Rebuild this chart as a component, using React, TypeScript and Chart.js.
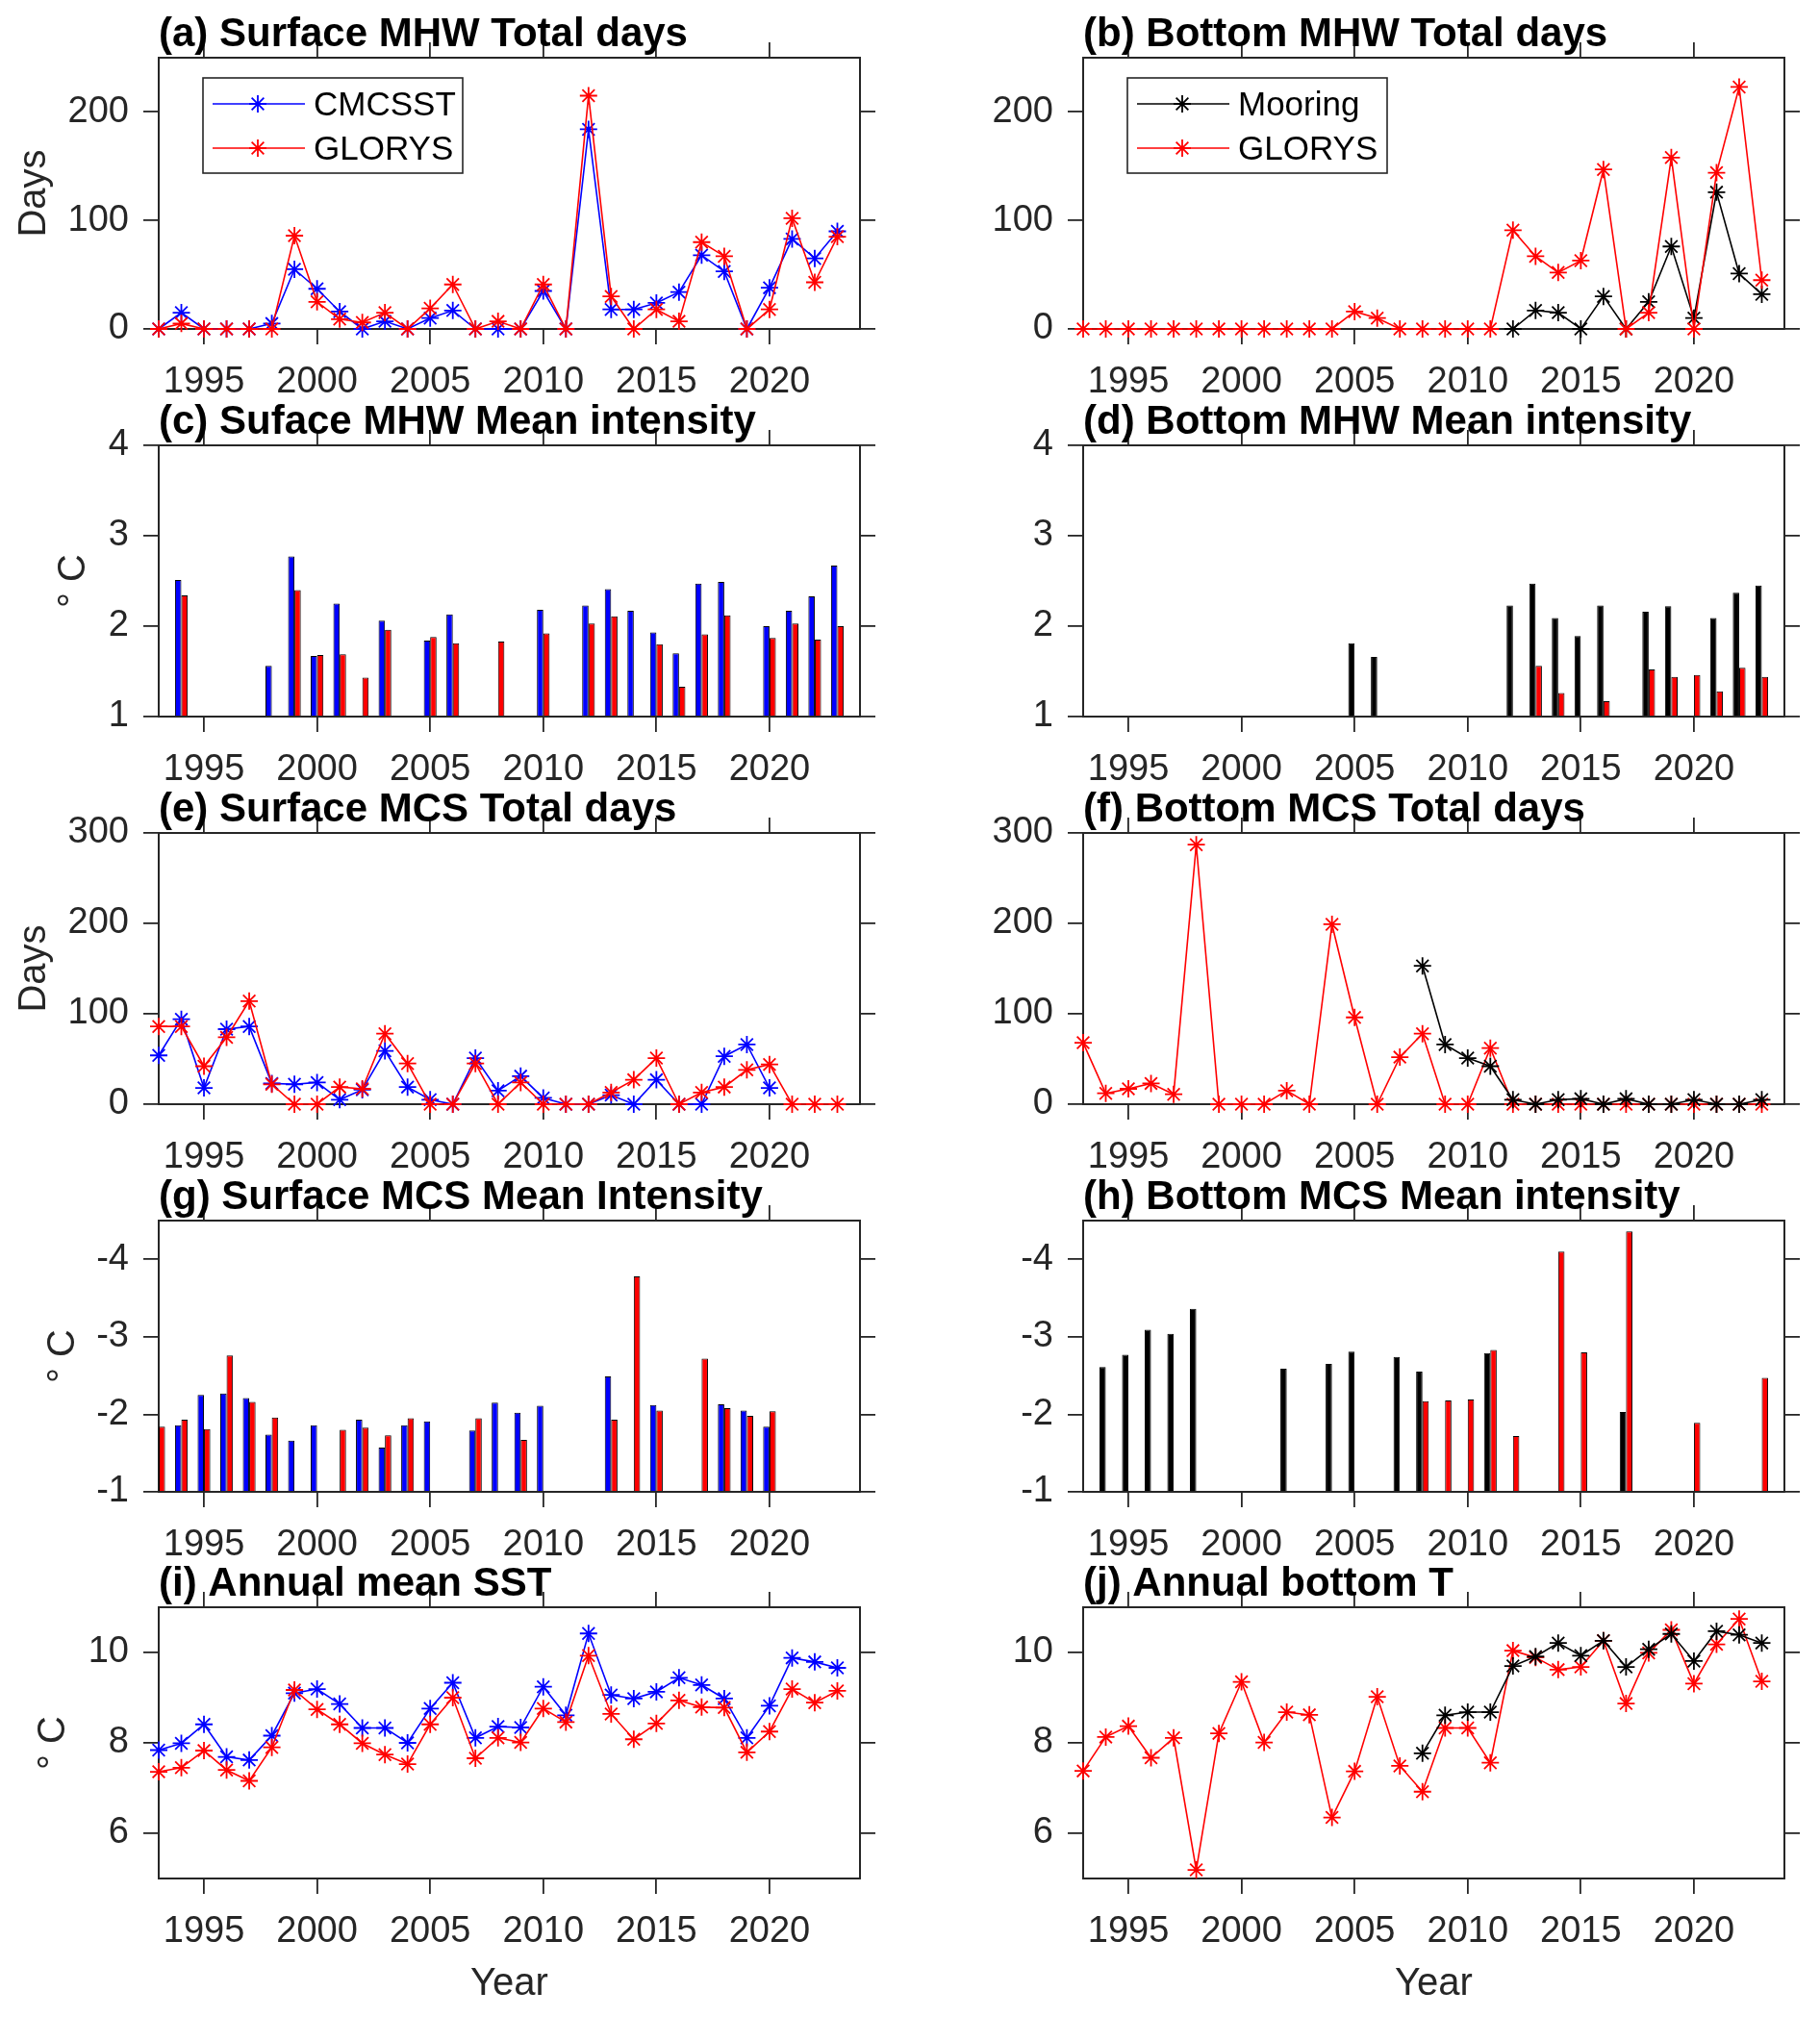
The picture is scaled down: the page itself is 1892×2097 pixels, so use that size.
import React, { useEffect, useRef } from 'react';
import { Chart, registerables } from 'chart.js';

Chart.register(...registerables);

const N = null;

// ---------- data ----------
const years = [1993, 1994, 1995, 1996, 1997, 1998, 1999, 2000, 2001, 2002, 2003, 2004, 2005, 2006, 2007, 2008,
  2009, 2010, 2011, 2012, 2013, 2014, 2015, 2016, 2017, 2018, 2019, 2020, 2021, 2022, 2023];
const yearTicks = [1995, 2000, 2005, 2010, 2015, 2020];

// (a) Surface MHW total days
const aCMCSST = [0, 15, 0, 0, 0, 5, 55, 37, 16, 0, 7, 0, 10, 17, 0, 0, 0, 35, 0, 184, 18, 18, 24, 34, 68, 53, 0, 38, 83, 65, 90];
const aGLORYS = [0, 5, 0, 0, 0, 0, 86, 25, 9, 6, 15, 0, 19, 41, 0, 7, 0, 41, 0, 215, 30, 0, 18, 7, 80, 67, 0, 18, 102, 43, 85];
// (b) Bottom MHW total days
const bMooring = [N, N, N, N, N, N, N, N, N, N, N, N, N, N, N, N, N, N, N, 0, 17, 15, 0, 30, 0, 25, 76, 10, 126, 51, 32];
const bGLORYS = [0, 0, 0, 0, 0, 0, 0, 0, 0, 0, 0, 0, 16, 10, 0, 0, 0, 0, 0, 91, 67, 52, 63, 147, 0, 15, 158, 0, 144, 223, 45];
// (c) Surface MHW mean intensity
const cCMCSST = [N, 2.51, N, N, N, 1.56, 2.77, 1.67, 2.25, N, 2.06, N, 1.84, 2.13, N, N, N, 2.18, N, 2.23, 2.41, 2.17, 1.93, 1.70, 2.47, 2.49, N, 2.00, 2.17, 2.33, 2.67];
const cGLORYS = [N, 2.34, N, N, N, N, 2.40, 1.68, 1.69, 1.43, 1.96, N, 1.88, 1.81, N, 1.83, N, 1.92, N, 2.03, 2.11, N, 1.80, 1.33, 1.91, 2.12, N, 1.87, 2.03, 1.85, 2.00];
// (d) Bottom MHW mean intensity
const dMooring = [N, N, N, N, N, N, N, N, N, N, N, N, 1.81, 1.66, N, N, N, N, N, 2.23, 2.47, 2.09, 1.89, 2.23, N, 2.16, 2.22, N, 2.09, 2.37, 2.45];
const dGLORYS = [N, N, N, N, N, N, N, N, N, N, N, N, N, N, N, N, N, N, N, N, 1.56, 1.26, N, 1.17, N, 1.52, 1.44, 1.46, 1.28, 1.54, 1.44];
// (e) Surface MCS total days
const eCMCSST = [54, 94, 18, 83, 86, 23, 22, 24, 5, 16, 59, 19, 5, 0, 51, 15, 31, 7, 0, 0, 10, 0, 27, 0, 0, 53, 66, 18, N, N, N];
const eGLORYS = [86, 86, 42, 74, 114, 22, 0, 0, 19, 17, 78, 45, 0, 0, 45, 0, 24, 0, 0, 0, 13, 27, 51, 0, 13, 19, 38, 44, 0, 0, 0];
// (f) Bottom MCS total days
const fMooring = [N, N, N, N, N, N, N, N, N, N, N, N, N, N, N, 153, 66, 51, 42, 5, 0, 5, 6, 0, 6, 0, 0, 5, 0, 0, 5];
const fGLORYS = [68, 12, 17, 23, 11, 287, 0, 0, 0, 15, 0, 199, 96, 0, 52, 78, 0, 0, 62, 0, 0, 0, 0, 0, 0, 0, 0, 0, 0, 0, 0];
// (g) Surface MCS mean intensity
const gCMCSST = [N, -1.86, -2.25, -2.27, -2.21, -1.74, -1.66, -1.86, N, -1.93, -1.57, -1.86, -1.91, N, -1.79, -2.15, -2.02, -2.11, N, N, -2.49, N, -2.12, N, N, -2.13, -2.05, -1.84, N, N, N];
const gGLORYS = [-1.84, -1.93, -1.81, -2.76, -2.16, -1.96, N, N, -1.80, -1.83, -1.73, -1.95, N, N, -1.95, N, -1.67, N, N, N, -1.93, -3.78, -2.05, N, -2.72, -2.08, -1.98, -2.04, N, N, N];
// (h) Bottom MCS mean intensity
const hMooring = [N, -2.61, -2.77, -3.09, -3.04, -3.36, N, N, N, -2.59, N, -2.65, -2.81, N, -2.74, -2.55, N, N, -2.79, N, N, N, N, N, -2.03, N, N, N, N, N, N];
const hGLORYS = [N, N, N, N, N, N, N, N, N, N, N, N, N, N, N, -2.17, -2.18, -2.19, -2.83, -1.72, N, -4.10, -2.80, N, -4.36, N, N, -1.89, N, N, -2.47];
// (i) Annual mean SST
const iCMCSST = [7.84, 7.99, 8.41, 7.69, 7.62, 8.16, 9.10, 9.19, 8.86, 8.33, 8.33, 8.00, 8.76, 9.33, 8.11, 8.36, 8.34, 9.24, 8.61, 10.42, 9.06, 8.98, 9.13, 9.44, 9.28, 8.98, 8.11, 8.82, 9.88, 9.79, 9.66];
const iGLORYS = [7.36, 7.45, 7.83, 7.40, 7.16, 7.90, 9.17, 8.74, 8.41, 7.99, 7.74, 7.53, 8.41, 9.00, 7.66, 8.11, 8.01, 8.76, 8.46, 9.93, 8.64, 8.08, 8.43, 8.94, 8.79, 8.78, 7.79, 8.25, 9.19, 8.89, 9.15];
// (j) Annual bottom T
const jMooring = [N, N, N, N, N, N, N, N, N, N, N, N, N, N, N, 7.77, 8.61, 8.68, 8.68, 9.70, 9.91, 10.21, 9.93, 10.26, 9.68, 10.07, 10.41, 9.81, 10.47, 10.39, 10.21];
const jGLORYS = [7.38, 8.13, 8.37, 7.67, 8.11, 5.19, 8.21, 9.35, 8.01, 8.68, 8.62, 6.35, 7.37, 9.02, 7.49, 6.92, 8.33, 8.33, 7.56, 10.04, 9.89, 9.62, 9.68, 10.26, 8.87, 9.99, 10.50, 9.31, 10.18, 10.74, 9.36];

const ticksDays250 = [0, 100, 200];
const ticksDays300 = [0, 100, 200, 300];
const ticksMHWInt = [1, 2, 3, 4];
const ticksMCSInt = [-4, -3, -2, -1];
const ticksTemp = [6, 8, 10];

// ---------- styling / layout ----------
const FONT = "'Liberation Sans', Arial, Helvetica, sans-serif";
const AXIS = '#262626';
const BLUE = '#0000ff';
const RED = '#ff0000';
const BLACK = '#000000';
const MARKER_R = 9;

const GEOM = {
  colX: [0, 946],
  colW: 946,
  plotL: [165, 1126],
  plotR: [894, 1855],
  rowTop: [60, 463, 866, 1269, 1671],
  plotH: 282,
  topSpace: 60,
  bottomSpace: [78, 78, 78, 78, 144],
};

type Series = { label: string; values: (number | null)[]; color: string; order: number };
type PanelSpec = {
  title: string;
  kind: 'line' | 'bar';
  col: number;
  row: number;
  yMin: number;
  yMax: number;
  yTicks: number[];
  reverse?: boolean;
  base?: number;
  yTitle?: string;
  yTitlePad?: number;
  xTitle?: string;
  legend?: boolean;
  series: Series[];
};

const panels: PanelSpec[] = [
  { title: '(a) Surface MHW Total days', kind: 'line', col: 0, row: 0, yMin: 0, yMax: 250, yTicks: ticksDays250, yTitle: 'Days', yTitlePad: 12, legend: true,
    series: [{ label: 'CMCSST', values: aCMCSST, color: BLUE, order: 1 }, { label: 'GLORYS', values: aGLORYS, color: RED, order: 0 }] },
  { title: '(b) Bottom MHW Total days', kind: 'line', col: 1, row: 0, yMin: 0, yMax: 250, yTicks: ticksDays250, legend: true,
    series: [{ label: 'Mooring', values: bMooring, color: BLACK, order: 1 }, { label: 'GLORYS', values: bGLORYS, color: RED, order: 0 }] },
  { title: '(c) Suface MHW Mean intensity', kind: 'bar', col: 0, row: 1, yMin: 1, yMax: 4, yTicks: ticksMHWInt, base: 1, yTitle: '° C', yTitlePad: 53,
    series: [{ label: 'CMCSST', values: cCMCSST, color: BLUE, order: 0 }, { label: 'GLORYS', values: cGLORYS, color: RED, order: 0 }] },
  { title: '(d) Bottom MHW Mean intensity', kind: 'bar', col: 1, row: 1, yMin: 1, yMax: 4, yTicks: ticksMHWInt, base: 1,
    series: [{ label: 'Mooring', values: dMooring, color: BLACK, order: 0 }, { label: 'GLORYS', values: dGLORYS, color: RED, order: 0 }] },
  { title: '(e) Surface MCS Total days', kind: 'line', col: 0, row: 2, yMin: 0, yMax: 300, yTicks: ticksDays300, yTitle: 'Days', yTitlePad: 12,
    series: [{ label: 'CMCSST', values: eCMCSST, color: BLUE, order: 1 }, { label: 'GLORYS', values: eGLORYS, color: RED, order: 0 }] },
  { title: '(f) Bottom MCS Total days', kind: 'line', col: 1, row: 2, yMin: 0, yMax: 300, yTicks: ticksDays300,
    series: [{ label: 'Mooring', values: fMooring, color: BLACK, order: 0 }, { label: 'GLORYS', values: fGLORYS, color: RED, order: 1 }] },
  { title: '(g) Surface MCS Mean Intensity', kind: 'bar', col: 0, row: 3, yMin: -4.5, yMax: -1, yTicks: ticksMCSInt, reverse: true, base: -1, yTitle: '° C', yTitlePad: 42,
    series: [{ label: 'CMCSST', values: gCMCSST, color: BLUE, order: 0 }, { label: 'GLORYS', values: gGLORYS, color: RED, order: 0 }] },
  { title: '(h) Bottom MCS Mean intensity', kind: 'bar', col: 1, row: 3, yMin: -4.5, yMax: -1, yTicks: ticksMCSInt, reverse: true, base: -1,
    series: [{ label: 'Mooring', values: hMooring, color: BLACK, order: 0 }, { label: 'GLORYS', values: hGLORYS, color: RED, order: 0 }] },
  { title: '(i) Annual mean SST', kind: 'line', col: 0, row: 4, yMin: 5, yMax: 11, yTicks: ticksTemp, yTitle: '° C', yTitlePad: 32, xTitle: 'Year',
    series: [{ label: 'CMCSST', values: iCMCSST, color: BLUE, order: 1 }, { label: 'GLORYS', values: iGLORYS, color: RED, order: 0 }] },
  { title: '(j) Annual bottom T', kind: 'line', col: 1, row: 4, yMin: 5, yMax: 11, yTicks: ticksTemp, xTitle: 'Year',
    series: [{ label: 'Mooring', values: jMooring, color: BLACK, order: 0 }, { label: 'GLORYS', values: jGLORYS, color: RED, order: 1 }] },
];

function drawStar(ctx: CanvasRenderingContext2D, x: number, y: number, r: number) {
  const d = r * Math.SQRT1_2;
  ctx.beginPath();
  ctx.moveTo(x - r, y); ctx.lineTo(x + r, y);
  ctx.moveTo(x, y - r); ctx.lineTo(x, y + r);
  ctx.moveTo(x - d, y - d); ctx.lineTo(x + d, y + d);
  ctx.moveTo(x - d, y + d); ctx.lineTo(x + d, y - d);
  ctx.stroke();
}

const boxLegend = {
  id: 'boxLegend',
  afterDatasetsDraw(chart: any, _args: any, opts: any) {
    if (!opts || !opts.display) return;
    const { ctx, chartArea } = chart;
    const x0 = chartArea.left + 46;
    const y0 = chartArea.top + 21;
    const w = 270;
    const h = 99;
    ctx.save();
    ctx.fillStyle = '#ffffff';
    ctx.fillRect(x0, y0, w, h);
    ctx.strokeStyle = AXIS;
    ctx.lineWidth = 1.6;
    ctx.strokeRect(x0, y0, w, h);
    const rows = [27, 73];
    chart.data.datasets.forEach((ds: any, i: number) => {
      const cy = y0 + rows[i];
      ctx.strokeStyle = ds.borderColor;
      ctx.lineWidth = 1.6;
      ctx.beginPath();
      ctx.moveTo(x0 + 10, cy);
      ctx.lineTo(x0 + 106, cy);
      ctx.stroke();
      ctx.lineWidth = 1.8;
      drawStar(ctx, x0 + 57, cy, MARKER_R);
      ctx.fillStyle = '#000000';
      ctx.font = `35px ${FONT}`;
      ctx.textAlign = 'left';
      ctx.textBaseline = 'middle';
      ctx.fillText(ds.label, x0 + 115, cy + 2);
    });
    ctx.restore();
  },
};

function buildConfig(spec: PanelSpec): any {
  const leftW = GEOM.plotL[spec.col] - GEOM.colX[spec.col];
  const rightW = GEOM.colX[spec.col] + GEOM.colW - GEOM.plotR[spec.col];
  const bottomH = GEOM.bottomSpace[spec.row];
  const tickGrid = { drawOnChartArea: false, drawTicks: true, tickLength: 16, color: AXIS, lineWidth: 1.8, offset: false };
  const border = { display: true, color: AXIS, width: 2 };
  const tickFont = { family: FONT, size: 38 };

  const datasets = spec.series.map((s) => {
    const data = years.map((yr, i) => ({ x: yr, y: s.values[i] }));
    if (spec.kind === 'bar') {
      return {
        type: 'bar',
        label: s.label,
        data,
        backgroundColor: s.color,
        borderColor: '#000000',
        borderWidth: 1,
        base: spec.base,
        categoryPercentage: 0.56,
        barPercentage: 1,
        order: s.order,
      };
    }
    return {
      type: 'line',
      label: s.label,
      data,
      borderColor: s.color,
      backgroundColor: s.color,
      borderWidth: 1.6,
      pointStyle: 'star',
      pointRadius: MARKER_R,
      pointHoverRadius: MARKER_R,
      pointBorderWidth: 1.8,
      pointBorderColor: s.color,
      pointBackgroundColor: s.color,
      tension: 0,
      spanGaps: false,
      clip: false,
      order: s.order,
    };
  });

  const setXTicks = (scale: any) => { scale.ticks = yearTicks.map((v) => ({ value: v })); };
  const setYTicks = (scale: any) => { scale.ticks = spec.yTicks.map((v) => ({ value: v })); };

  return {
    type: spec.kind,
    data: { datasets },
    plugins: [boxLegend],
    options: {
      responsive: false,
      animation: false,
      events: [],
      layout: { padding: 0, autoPadding: false },
      plugins: {
        legend: { display: false },
        tooltip: { enabled: false },
        title: {
          display: true,
          text: spec.title,
          align: 'start',
          fullSize: false,
          color: '#000000',
          font: { family: FONT, size: 42, weight: 'bold', lineHeight: 1.2 },
          padding: { top: 10.75, bottom: -17.15 },
        },
        boxLegend: { display: !!spec.legend },
      },
      scales: {
        x: {
          type: 'linear',
          position: 'bottom',
          min: 1993,
          max: 2024,
          offset: false,
          afterBuildTicks: setXTicks,
          afterFit: (scale: any) => { scale.height = bottomH; },
          grid: tickGrid,
          border,
          ticks: { callback: (v: any) => String(v), font: tickFont, color: AXIS, padding: 17, maxRotation: 0, autoSkip: false },
          title: spec.xTitle
            ? { display: true, text: spec.xTitle, color: AXIS, font: { family: FONT, size: 40, lineHeight: 1.2 }, padding: { top: 0, bottom: 10 } }
            : { display: false },
        },
        x2: {
          type: 'linear',
          position: 'top',
          min: 1993,
          max: 2024,
          offset: false,
          afterBuildTicks: setXTicks,
          afterFit: (scale: any) => { scale.height = 16; },
          grid: tickGrid,
          border,
          ticks: { display: false },
        },
        y: {
          type: 'linear',
          position: 'left',
          min: spec.yMin,
          max: spec.yMax,
          reverse: !!spec.reverse,
          afterBuildTicks: setYTicks,
          afterFit: (scale: any) => { scale.width = leftW; },
          grid: tickGrid,
          border,
          ticks: { callback: (v: any) => String(v), font: tickFont, color: AXIS, padding: 15, autoSkip: false },
          title: spec.yTitle
            ? { display: true, text: spec.yTitle, color: AXIS, font: { family: FONT, size: 40, lineHeight: 1.2 }, padding: { top: spec.yTitlePad || 0, bottom: 0 } }
            : { display: false },
        },
        y2: {
          type: 'linear',
          position: 'right',
          min: spec.yMin,
          max: spec.yMax,
          reverse: !!spec.reverse,
          afterBuildTicks: setYTicks,
          afterFit: (scale: any) => { scale.width = rightW; },
          grid: tickGrid,
          border,
          ticks: { display: false },
        },
      },
    },
  };
}

function Panel({ spec }: { spec: PanelSpec }) {
  const ref = useRef<HTMLCanvasElement | null>(null);
  const left = GEOM.colX[spec.col];
  const top = GEOM.rowTop[spec.row] - GEOM.topSpace;
  const w = GEOM.colW;
  const h = GEOM.topSpace + GEOM.plotH + GEOM.bottomSpace[spec.row];
  useEffect(() => {
    if (!ref.current) return;
    const chart = new Chart(ref.current, buildConfig(spec));
    return () => chart.destroy();
  }, [spec]);
  return (
    <canvas
      ref={ref}
      width={w}
      height={h}
      style={{ position: 'absolute', left, top, width: w, height: h }}
    />
  );
}

export default function App() {
  return (
    <div style={{ position: 'absolute', left: 0, top: 0, width: 1892, height: 2097, background: '#ffffff', overflow: 'hidden' }}>
      {panels.map((p) => (
        <Panel key={p.title} spec={p} />
      ))}
    </div>
  );
}
